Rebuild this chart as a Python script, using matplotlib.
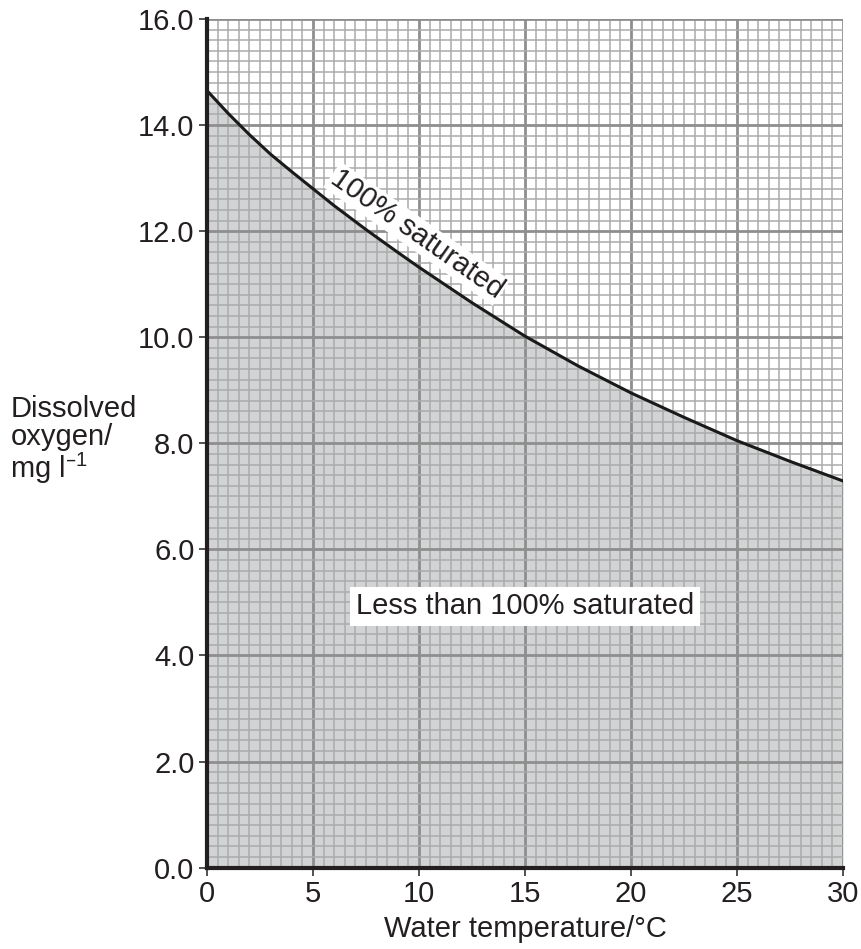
import numpy as np
import matplotlib
matplotlib.use("Agg")
import matplotlib.pyplot as plt

plt.rcParams['font.family'] = ['Liberation Sans', 'DejaVu Sans']
plt.rcParams['mathtext.default'] = 'regular'

# values
temperature = [0, 1, 2, 3, 4, 5, 6, 7.5, 9, 10, 12.5, 15, 17.5, 20, 22.5, 25, 27.5, 30]
oxygen = [14.65, 14.22, 13.82, 13.45, 13.12, 12.8, 12.48, 12.03, 11.6, 11.32,
          10.65, 10.02, 9.46, 8.95, 8.49, 8.05, 7.66, 7.29]
xticks = [0, 5, 10, 15, 20, 25, 30]
yticks = [0, 2, 4, 6, 8, 10, 12, 14, 16]

fig = plt.figure(figsize=(8.62, 9.49), dpi=100)
ax = fig.add_axes([0.2401, 0.0857, 0.7379, 0.8943])

# shaded region under the saturation curve
ax.fill_between(temperature, 0, oxygen, color='#d1d3d4', zorder=0, lw=0)

# graph paper grid
for x in np.arange(0, 30.01, 0.5):
    if x % 5 == 0:
        ax.axvline(x, color='#8e8e8e', lw=2.0, zorder=1)
    else:
        ax.axvline(x, color='#ababab', lw=1.1, zorder=1)
for y in np.arange(0, 16.01, 0.2):
    if abs(y / 2 - round(y / 2)) < 1e-6:
        ax.axhline(y, color='#8e8e8e', lw=2.0, zorder=1)
    else:
        ax.axhline(y, color='#ababab', lw=1.1, zorder=1)

ax.plot(temperature, oxygen, color='#1a1a1a', lw=2.2, zorder=3)

ax.set_xlim(0, 30)
ax.set_ylim(0, 16)
ax.set_xticks(xticks)
ax.set_xticklabels([str(t) for t in xticks])
ax.set_yticks(yticks)
ax.set_yticklabels(['%.1f' % t for t in yticks])
ax.tick_params(labelsize=21, length=6, width=1.2, color='#333333',
               labelcolor='#231f20', pad=3)

for s in ['top', 'right']:
    ax.spines[s].set_visible(False)
for s in ['left', 'bottom']:
    ax.spines[s].set_linewidth(3)
    ax.spines[s].set_color('#231f20')
    ax.spines[s].set_zorder(5)

ax.set_xlabel('Water temperature/°C', fontsize=21, color='#231f20', labelpad=5)

fig.text(0.012, 0.536, 'Dissolved\noxygen/\nmg l$^{–1}$', fontsize=21,
         color='#231f20', ha='left', va='center', linespacing=1.0)

ax.text(9.9, 11.95, '100% saturated', fontsize=21, color='#231f20',
        rotation=-35, rotation_mode='anchor', ha='center', va='center', zorder=4,
        bbox=dict(facecolor='white', edgecolor='none', pad=1))

ax.text(15.0, 4.93, 'Less than 100% saturated', fontsize=21, color='#231f20',
        ha='center', va='center', zorder=4,
        bbox=dict(facecolor='white', edgecolor='none', pad=4))

fig.savefig('out.png', dpi=100)
